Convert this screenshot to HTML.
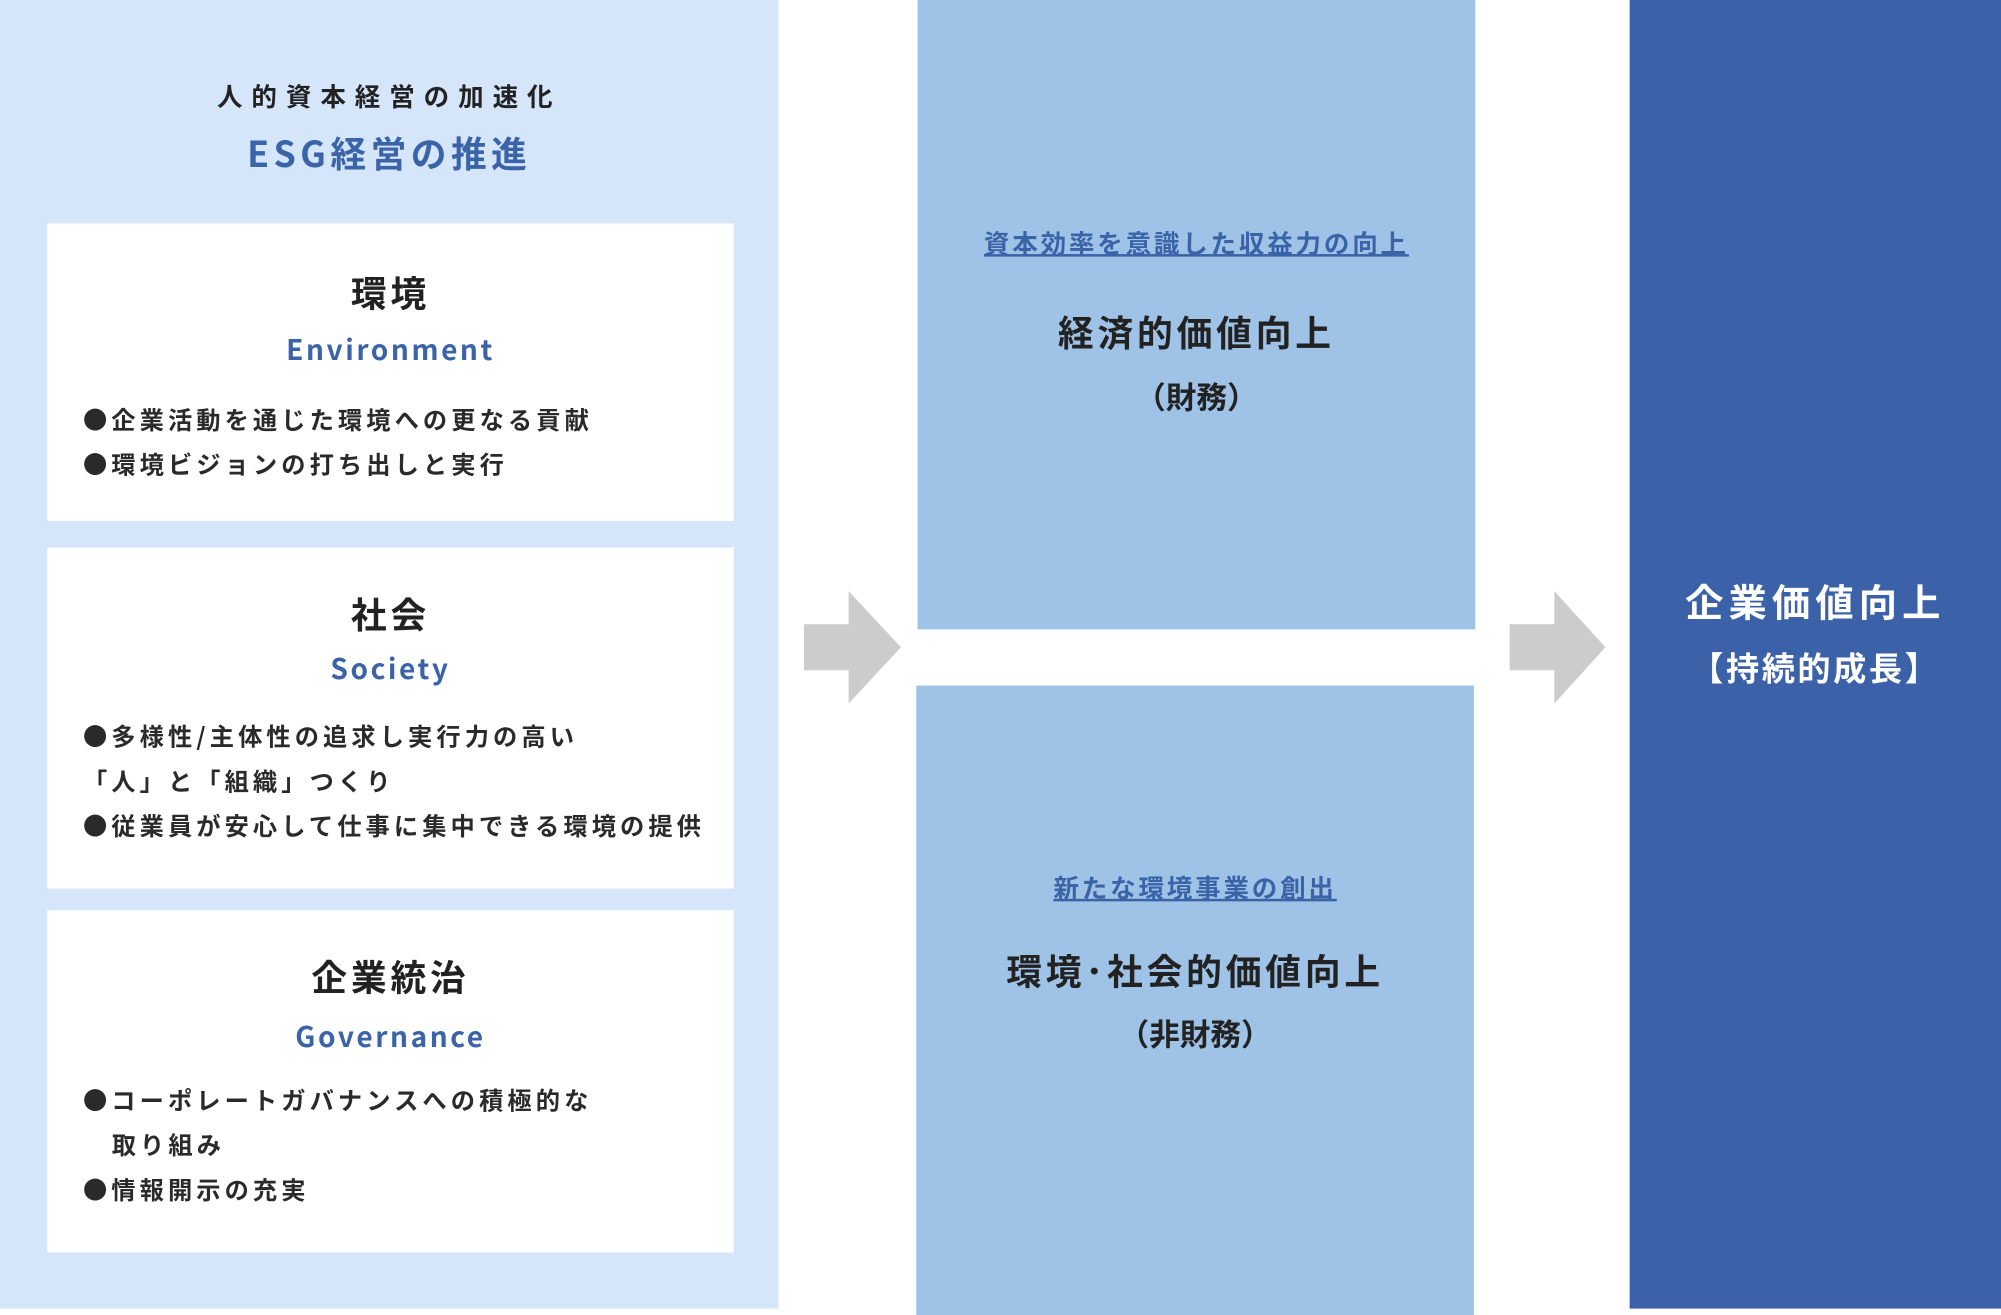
<!DOCTYPE html>
<html><head><meta charset="utf-8"><style>
html,body{margin:0;padding:0;width:2001px;height:1315px;overflow:hidden;background:#fff}
#w{position:absolute;left:0;top:0;width:1568px;height:1030px;transform:scale(1.27615,1.27670);transform-origin:0 0;font-family:"Noto Sans CJK JP","Liberation Sans",sans-serif;color:#222}
.a{position:absolute}
.c{position:absolute;left:0;right:0;text-align:center;white-space:nowrap}
.b{font-weight:700}
.blue{color:#3a63a8}
.wb{position:absolute;left:37px;width:538px;background:#fff}
.bl{position:absolute;left:28px;font-size:19px;font-weight:700;line-height:35px;letter-spacing:3.2px;white-space:nowrap;color:#2a2a2a}
.lk{text-decoration:underline;color:#3a63a8;font-size:20px;font-weight:700;letter-spacing:2.2px}
</style></head><body><div id="w">
<div class="a" style="left:0;top:0;width:610px;height:1025px;background:#d5e6fb">
 <div class="c b" style="top:60px;font-size:20px;letter-spacing:7px">人的資本経営の加速化</div>
 <div class="c b blue" style="top:100px;font-size:28px;letter-spacing:3.5px">ESG経営の推進</div>
 <div class="wb" style="top:175px;height:233px">
  <div class="c b" style="top:34px;font-size:28px;letter-spacing:3px">環境</div>
  <div class="c b blue" style="top:82px;font-size:22px;letter-spacing:2px">Environment</div>
  <div class="bl" style="top:136px">●企業活動を通じた環境への更なる貢献<br>●環境ビジョンの打ち出しと実行</div>
 </div>
 <div class="wb" style="top:429px;height:267px">
  <div class="c b" style="top:32px;font-size:28px;letter-spacing:3px">社会</div>
  <div class="c b blue" style="top:78px;font-size:22px;letter-spacing:2px">Society</div>
  <div class="bl" style="top:130px">●多様性/主体性の追求し実行力の高い<br>「人」と「組織」つくり<br>●従業員が安心して仕事に集中できる環境の提供</div>
 </div>
 <div class="wb" style="top:713px;height:268px">
  <div class="c b" style="top:32px;font-size:28px;letter-spacing:3px">企業統治</div>
  <div class="c b blue" style="top:82px;font-size:22px;letter-spacing:2px">Governance</div>
  <div class="bl" style="top:131px">●コーポレートガバナンスへの積極的な<br>&nbsp;&nbsp;&nbsp;取り組み<br>●情報開示の充実</div>
 </div>
</div>
<svg class="a" style="left:0;top:0" width="1568" height="1030">
 <polygon points="630,489 665,489 665,463 706,507 665,551 665,525 630,525" fill="#cccccc"/>
 <polygon points="1183,489 1218,489 1218,463 1258,507 1218,551 1218,525 1183,525" fill="#cccccc"/>
</svg>
<div class="a" style="left:719px;top:0;width:437px;height:493px;background:#9ec3e6">
 <div class="c lk" style="top:175px">資本効率を意識した収益力の向上</div>
 <div class="c b" style="top:240px;font-size:28px;letter-spacing:3px">経済的価値向上</div>
 <div class="c b" style="top:292px;font-size:24px">（財務）</div>
</div>
<div class="a" style="left:718px;top:537px;width:437px;height:493px;background:#9ec3e6">
 <div class="c lk" style="top:143px">新たな環境事業の創出</div>
 <div class="c b" style="top:203px;font-size:28px;letter-spacing:3px">環境･社会的価値向上</div>
 <div class="c b" style="top:254px;font-size:24px">（非財務）</div>
</div>
<div class="a" style="left:1277px;top:0;width:291px;height:1025px;background:#3b62a8;color:#fff">
 <div class="c b" style="top:448px;font-size:30px;letter-spacing:4px">企業価値向上</div>
 <div class="c b" style="top:504px;font-size:26px;letter-spacing:2px">【持続的成長】</div>
</div>
</div></body></html>
